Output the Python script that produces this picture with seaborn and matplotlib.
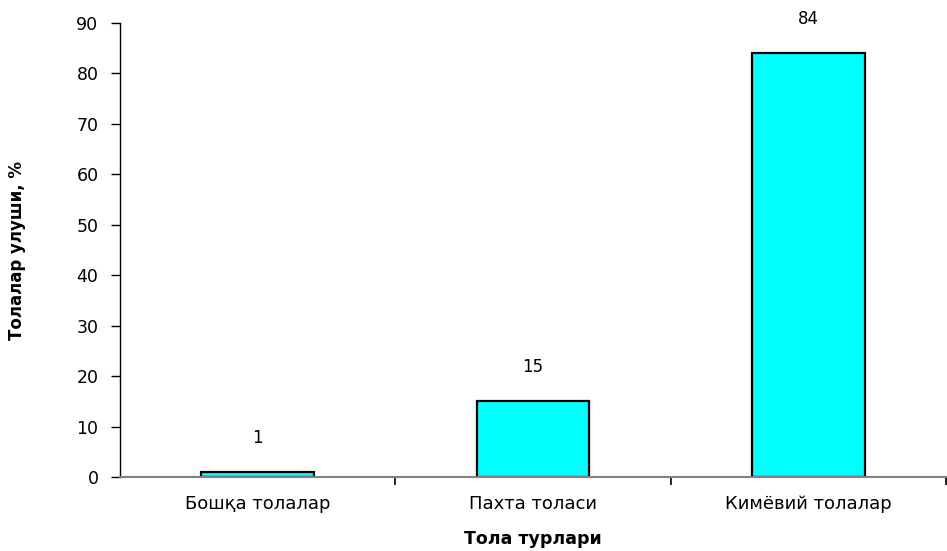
import matplotlib
matplotlib.use("Agg")
import matplotlib.pyplot as plt
import pandas as pd
import seaborn as sns

categories = ["Бошқа толалар", "Пахта толаси", "Кимёвий толалар"]
shares = [1, 15, 84]
y_ticks = [0, 10, 20, 30, 40, 50, 60, 70, 80, 90]

sns.set_theme(style="white")
plt.rcParams["font.family"] = ["DejaVu Sans"]
plt.rcParams["text.color"] = "black"
plt.rcParams["xtick.color"] = "black"
plt.rcParams["ytick.color"] = "black"
plt.rcParams["axes.labelcolor"] = "black"

df = pd.DataFrame({"cat": categories, "val": shares})

fig = plt.figure(figsize=(9.47, 5.51), dpi=100)
# axes: x 120..946 px, y 23..477 px
ax = fig.add_axes([120 / 947, 1 - 477 / 551, (946 - 120) / 947, (477 - 23) / 551])

sns.barplot(data=df, x="cat", y="val", ax=ax, color="#00ffff", width=0.41,
            edgecolor="black", linewidth=1.6, saturation=1)

ax.set_xlim(-0.5, -0.5 + (946 - 120) / 279)
ax.set_ylim(0, 90)
ax.set_yticks(y_ticks)
ax.tick_params(axis="y", direction="out", length=6.5, width=1,
               labelsize=12.5, pad=9, left=True)

# category ticks sit on the group boundaries
ax.set_xticks([i + 0.5 for i in range(len(categories))], minor=True)
ax.tick_params(axis="x", which="minor", direction="out", length=6, width=1.2,
               bottom=True)
ax.tick_params(axis="x", which="major", length=0, labelsize=13, pad=13)

for s in ["top", "right"]:
    ax.spines[s].set_visible(False)
ax.spines["left"].set_color("black")
ax.spines["left"].set_linewidth(1)
ax.spines["bottom"].set_color("#808080")
ax.spines["bottom"].set_linewidth(1.5)

for i, v in enumerate(shares):
    ax.text(i, v + 6.8, str(v), ha="center", va="center", fontsize=12)

ax.set_xlabel("Тола турлари", fontsize=12.5, fontweight="bold", labelpad=12)
ax.set_ylabel("Толалар улуши, %", fontsize=12, fontweight="bold")
ax.yaxis.set_label_coords(-94 / 826, 0.5)

fig.savefig("out.png", dpi=100)
